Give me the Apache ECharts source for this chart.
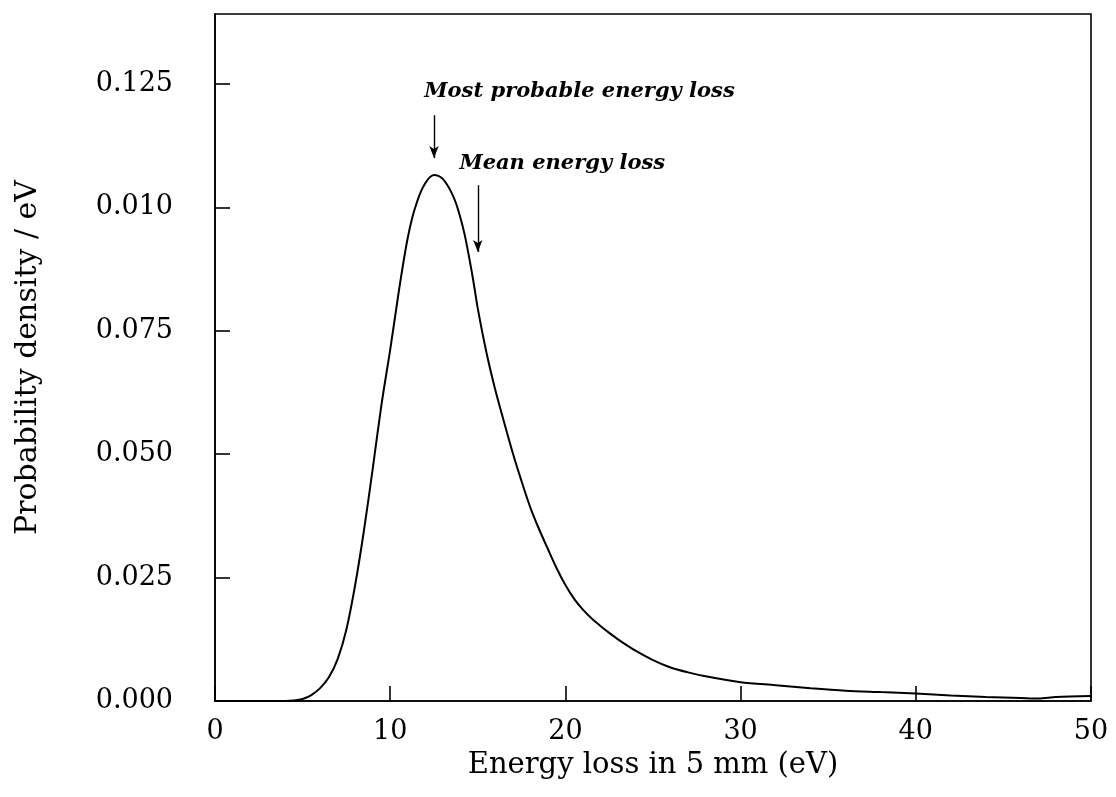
<!DOCTYPE html>
<html>
<head>
<meta charset="utf-8">
<title>Energy loss distribution</title>
<script src="https://cdn.jsdelivr.net/npm/echarts@6/dist/echarts.min.js"></script>
<style>
  html, body { margin: 0; padding: 0; background: #fff; }
  #chart { width: 1116px; height: 797px; }
</style>
</head>
<body>
<div id="chart"></div>
<script>
// Energy loss (eV) sampled along the curve
const energyLoss = [0, 2, 4, 4.5, 5, 5.5, 6, 6.5, 7, 7.5, 8, 8.5, 9, 9.5, 10, 10.5, 10.75, 11, 11.25, 11.5,
  11.75, 12, 12.25, 12.5, 12.75, 13, 13.25, 13.5, 13.75, 14, 14.25, 14.5, 14.75, 15, 15.5, 16, 16.5, 17, 17.5, 18,
  18.5, 19, 19.5, 20, 20.5, 21, 21.5, 22, 22.5, 23, 24, 25, 26, 27, 28, 30, 32, 34, 36, 38, 40, 42, 44, 46, 47, 48, 50];
// Probability density (1/eV) at each energy loss
const density = [0, 0, 0, 0.0001, 0.0004, 0.0012, 0.0026, 0.0048, 0.0085, 0.0145, 0.0235, 0.0345, 0.047, 0.060, 0.0712, 0.0832, 0.0888, 0.0938, 0.0978, 0.1008,
  0.1032, 0.1049, 0.1061, 0.1066, 0.1064, 0.1058, 0.1046, 0.1030, 0.1009, 0.0980, 0.0945, 0.0900, 0.0850, 0.0795, 0.0705, 0.0630, 0.0565, 0.0502, 0.0445, 0.0392,
  0.0348, 0.0308, 0.0269, 0.0235, 0.0207, 0.0185, 0.0167, 0.0152, 0.0138, 0.0125, 0.0102, 0.0083, 0.0068, 0.0058, 0.0050, 0.0038, 0.0032, 0.0026, 0.0021, 0.0018, 0.0015, 0.0011, 0.0008, 0.0006, 0.0005, 0.0008, 0.0010];

// Tick labels, as printed
const xTickLabels = ['0', '10', '20', '30', '40', '50'];
const yTickLabels = ['0.000', '0.025', '0.050', '0.075', '0.010', '0.125'];

// Annotated energies (eV)
const mostProbableLoss = 12.5;
const meanLoss = 15.0;

const serif = '"DejaVu Serif", "Liberation Serif", serif';
const chart = echarts.init(document.getElementById('chart'), null, { renderer: 'canvas' });

const points = energyLoss.map((x, i) => [x, density[i]]);

chart.setOption({
  animation: false,
  backgroundColor: '#fff',
  grid: {
    left: 215, right: 25, top: 14, bottom: 96,
    outerBoundsMode: 'none', containLabel: false,
    show: true, borderColor: '#000', borderWidth: 1.6, backgroundColor: 'transparent'
  },
  xAxis: {
    type: 'value', min: 0, max: 50, interval: 10,
    name: 'Energy loss in 5 mm (eV)', nameLocation: 'middle', nameGap: 50,
    nameTextStyle: { fontFamily: serif, fontSize: 29, color: '#000' },
    axisLine: { show: true, lineStyle: { color: '#000', width: 1.6 } },
    axisTick: { show: true, inside: true, length: 15, lineStyle: { color: '#000', width: 1.6 } },
    axisLabel: {
      margin: 17, fontFamily: serif, fontSize: 27, color: '#000',
      formatter: v => { const i = Math.round(v / 10); return Math.abs(v - i * 10) < 1e-6 ? (xTickLabels[i] || '') : ''; }
    },
    splitLine: { show: false }
  },
  yAxis: {
    type: 'value', min: 0, max: 0.1392, interval: 0.025,
    name: 'Probability density / eV', nameLocation: 'middle', nameGap: 172, nameRotate: 90,
    nameTextStyle: { fontFamily: serif, fontSize: 30, color: '#000' },
    axisLine: { show: true, lineStyle: { color: '#000', width: 1.6 } },
    axisTick: { show: true, inside: true, length: 15, lineStyle: { color: '#000', width: 1.6 } },
    axisLabel: {
      margin: 42, fontFamily: serif, fontSize: 27, color: '#000', showMaxLabel: false,
      formatter: v => { const i = Math.round(v / 0.025); return Math.abs(v - i * 0.025) < 1e-9 ? (yTickLabels[i] || '') : ''; }
    },
    splitLine: { show: false }
  },
  series: [{
    type: 'line',
    data: points,
    smooth: 0.3,
    showSymbol: false,
    symbol: 'none',
    lineStyle: { color: '#000', width: 2 },
    silent: true,
    markLine: {
      silent: true,
      symbol: ['none', 'arrow'],
      symbolSize: [7, 12],
      label: { show: false },
      lineStyle: { color: '#000', width: 1.4, type: 'solid' },
      data: [
        [{ coord: [mostProbableLoss, 0.1187] }, { coord: [mostProbableLoss, 0.1100] }],
        [{ coord: [meanLoss, 0.1045] }, { coord: [meanLoss, 0.0910] }]
      ]
    }
  }]
});

// Annotation texts anchored in data coordinates
function placeNotes() {
  const a = chart.convertToPixel({ gridIndex: 0 }, [11.95, 0.1234]);
  const b = chart.convertToPixel({ gridIndex: 0 }, [13.95, 0.1090]);
  const style = { fontFamily: serif, fontSize: 21, fontWeight: 'bold', fontStyle: 'italic', fill: '#000', textVerticalAlign: 'middle' };
  chart.setOption({
    graphic: [
      { type: 'text', x: a[0], y: a[1], silent: true, style: Object.assign({ text: 'Most probable energy loss' }, style) },
      { type: 'text', x: b[0], y: b[1], silent: true, style: Object.assign({ text: 'Mean energy loss' }, style) }
    ]
  });
}
placeNotes();
</script>
</body>
</html>
